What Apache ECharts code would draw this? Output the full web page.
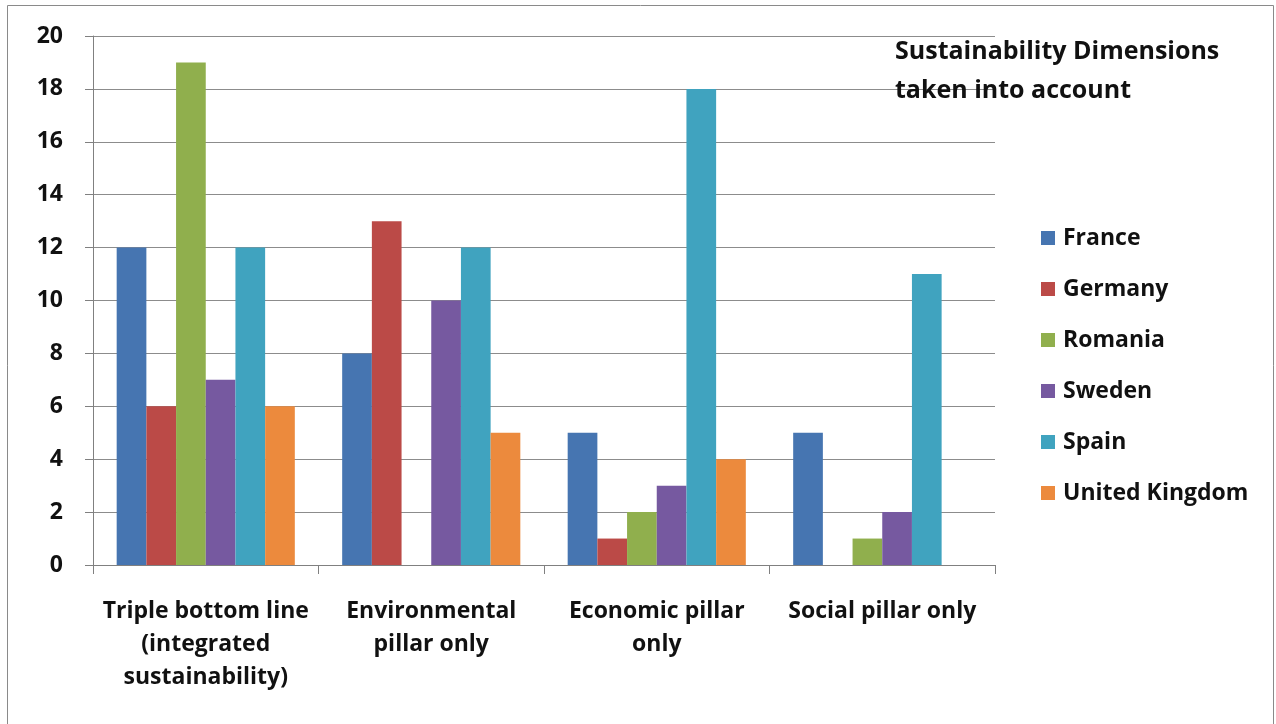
<!DOCTYPE html>
<html>
<head>
<meta charset="utf-8">
<script src="https://cdn.jsdelivr.net/npm/echarts@6/dist/echarts.min.js"></script>
<style>
  html, body { margin: 0; padding: 0; background: #fff; }
  #chart { width: 1276px; height: 724px; }
</style>
</head>
<body>
<div id="chart"></div>
<script>
// Sustainability dimensions taken into account, by country
const categories = [
  'Triple bottom line\n(integrated\nsustainability)',
  'Environmental\npillar only',
  'Economic pillar\nonly',
  'Social pillar only'
];
const countries = ['France', 'Germany', 'Romania', 'Sweden', 'Spain', 'United Kingdom'];
const france  = [12, 8, 5, 5];
const germany = [6, 13, 1, 0];
const romania = [19, 0, 2, 1];
const sweden  = [7, 10, 3, 2];
const spain   = [12, 12, 18, 11];
const uk      = [6, 5, 4, 0];
const yTicks  = [0, 2, 4, 6, 8, 10, 12, 14, 16, 18, 20];

const seriesValues = [france, germany, romania, sweden, spain, uk];
const colors = ['#4675B1', '#BB4A47', '#90AF4D', '#7659A0', '#40A3BF', '#EC8A3D'];
const FONT = '"Open Sans", sans-serif';

const chart = echarts.init(document.getElementById('chart'), null, { renderer: 'canvas' });

chart.setOption({
  animation: false,
  backgroundColor: '#fff',
  color: colors,
  title: {
    text: 'Sustainability Dimensions\ntaken into account',
    left: 895,
    top: 32,
    padding: 0,
    textStyle: { fontFamily: FONT, fontSize: 25, fontWeight: 'bold', color: '#111', lineHeight: 39 }
  },
  legend: {
    orient: 'vertical',
    left: 1041,
    top: 226,
    padding: 0,
    itemWidth: 14,
    itemHeight: 14,
    itemGap: 27,
    icon: 'rect',
    data: countries,
    textStyle: {
      fontFamily: FONT, fontSize: 23, fontWeight: 'bold', color: '#111',
      lineHeight: 24, padding: [0, 0, 0, 3]
    }
  },
  grid: { left: 93, right: 281, top: 36, bottom: 159, containLabel: false },
  xAxis: {
    type: 'category',
    data: categories,
    axisLine: { lineStyle: { color: '#808080', width: 1 } },
    axisTick: { show: true, alignWithLabel: false, length: 9, lineStyle: { color: '#808080' } },
    axisLabel: {
      interval: 0, margin: 30, fontFamily: FONT, fontSize: 23, fontWeight: 'bold',
      color: '#111', lineHeight: 33, align: 'center'
    },
    splitLine: { show: false }
  },
  yAxis: {
    type: 'value',
    min: yTicks[0],
    max: yTicks[yTicks.length - 1],
    interval: 2,
    axisLine: { show: true, lineStyle: { color: '#808080', width: 1 } },
    axisTick: { show: true, length: 8, lineStyle: { color: '#808080' } },
    axisLabel: { margin: 30, fontFamily: FONT, fontSize: 23, fontWeight: 'bold', color: '#111' },
    splitLine: { show: true, lineStyle: { color: '#8c8c8c', width: 1 } }
  },
  series: countries.map((name, i) => ({
    name: name,
    type: 'bar',
    data: seriesValues[i],
    barGap: '0%',
    barCategoryGap: '21%',
    itemStyle: { color: colors[i] }
  })),
  graphic: [{
    type: 'rect',
    shape: { x: 7.5, y: 5.5, width: 1266, height: 740 },
    style: { fill: 'none', stroke: '#8a8a8a', lineWidth: 1 },
    silent: true,
    z: 100
  }]
});
</script>
</body>
</html>
